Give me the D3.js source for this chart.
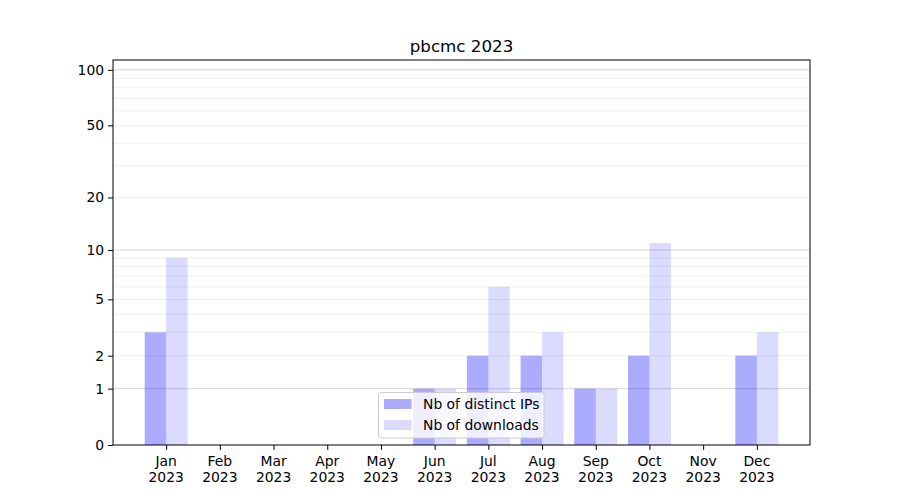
<!DOCTYPE html>
<html>
<head>
<meta charset="utf-8">
<script src="https://cdn.jsdelivr.net/npm/d3@7"></script>
<style>
  body { margin: 0; background: #fff; }
  svg { display: block; font-family: "DejaVu Sans", sans-serif; }
</style>
</head>
<body>
<svg id="chart" width="900" height="500"></svg>
<script>
const title = "pbcmc 2023";
const months = ["Jan","Feb","Mar","Apr","May","Jun","Jul","Aug","Sep","Oct","Nov","Dec"];
const yearLabel = "2023";
const distinctIPs = [3, 0, 0, 0, 0, 1, 2, 2, 1, 2, 0, 2];
const downloads   = [9, 0, 0, 0, 0, 1, 6, 3, 1, 11, 0, 3];
const yTicks = [0, 1, 2, 5, 10, 20, 50, 100];
const majorGrid = [1, 10, 100];
const minorGrid = [2,3,4,5,6,7,8,9,20,30,40,50,60,70,80,90];
const seriesNames = ["Nb of distinct IPs", "Nb of downloads"];

const svg = d3.select("#chart");
const L = 113, R = 810, T = 60, B = 445;
const fs = 13.9;

const x = d3.scaleLinear().domain([-0.99, 11.99]).range([L, R]);
const y = d3.scaleSymlog().constant(1).domain([0, 113]).range([B, T]);
const bw = x(0.4) - x(0);

// grid
const g = svg.append("g");
g.selectAll("line.minor").data(minorGrid).enter().append("line")
  .attr("x1", L).attr("x2", R)
  .attr("y1", d => y(d)).attr("y2", d => y(d))
  .attr("stroke", "#ebebeb").attr("stroke-width", 0.8);
g.selectAll("line.major").data(majorGrid).enter().append("line")
  .attr("x1", L).attr("x2", R)
  .attr("y1", d => y(d)).attr("y2", d => y(d))
  .attr("stroke", "#cbcbcb").attr("stroke-width", 0.8);

// bars
svg.append("g").selectAll("rect").data(distinctIPs).enter().append("rect")
  .attr("x", (d, i) => x(i - 0.4)).attr("width", bw)
  .attr("y", d => y(d)).attr("height", d => B - y(d))
  .attr("fill", "blue").attr("fill-opacity", 0.33);
svg.append("g").selectAll("rect").data(downloads).enter().append("rect")
  .attr("x", (d, i) => x(i)).attr("width", bw)
  .attr("y", d => y(d)).attr("height", d => B - y(d))
  .attr("fill", "blue").attr("fill-opacity", 0.14);

// frame
svg.append("rect").attr("x", L).attr("y", T).attr("width", R - L).attr("height", B - T)
  .attr("fill", "none").attr("stroke", "#000").attr("stroke-width", 1);

// y axis
const yAxis = svg.append("g").attr("transform", `translate(${L},0)`)
  .call(d3.axisLeft(y).tickValues(yTicks).tickFormat(d3.format("d")).tickSize(4.9).tickPadding(4));
yAxis.select(".domain").remove();
yAxis.selectAll("text").attr("font-size", fs).attr("fill", "#000").attr("font-family", "DejaVu Sans");
yAxis.selectAll("line").attr("stroke", "#000");

// x axis
const xAxis = svg.append("g").attr("transform", `translate(0,${B})`)
  .call(d3.axisBottom(x).tickValues(d3.range(12)).tickFormat("").tickSize(4.9));
xAxis.select(".domain").remove();
xAxis.selectAll("line").attr("stroke", "#000");
const lab = svg.append("g").selectAll("text").data(months).enter().append("text")
  .attr("x", (d, i) => x(i)).attr("y", B + 21)
  .attr("text-anchor", "middle").attr("font-size", fs).attr("fill", "#000");
lab.append("tspan").attr("x", (d, i) => x(i)).text(d => d);
lab.append("tspan").attr("x", (d, i) => x(i)).attr("dy", 16).text(yearLabel);

// title
svg.append("text").attr("x", (L + R) / 2).attr("y", 52)
  .attr("text-anchor", "middle").attr("font-size", 16.7).attr("fill", "#000").text(title);

// legend
const lg = svg.append("g");
lg.append("rect").attr("x", 378.5).attr("y", 392.5).attr("width", 165.5).attr("height", 45.5)
  .attr("rx", 3).attr("fill", "#fff").attr("fill-opacity", 0.8)
  .attr("stroke", "#cccccc").attr("stroke-width", 1);
const opac = [0.33, 0.14];
seriesNames.forEach((n, i) => {
  const yy = 399 + i * 21;
  lg.append("rect").attr("x", 384).attr("y", yy).attr("width", 27.5).attr("height", 10)
    .attr("fill", "blue").attr("fill-opacity", opac[i]);
  lg.append("text").attr("x", 423).attr("y", yy + 10).attr("font-size", fs).attr("fill", "#000").text(n);
});
</script>
</body>
</html>
